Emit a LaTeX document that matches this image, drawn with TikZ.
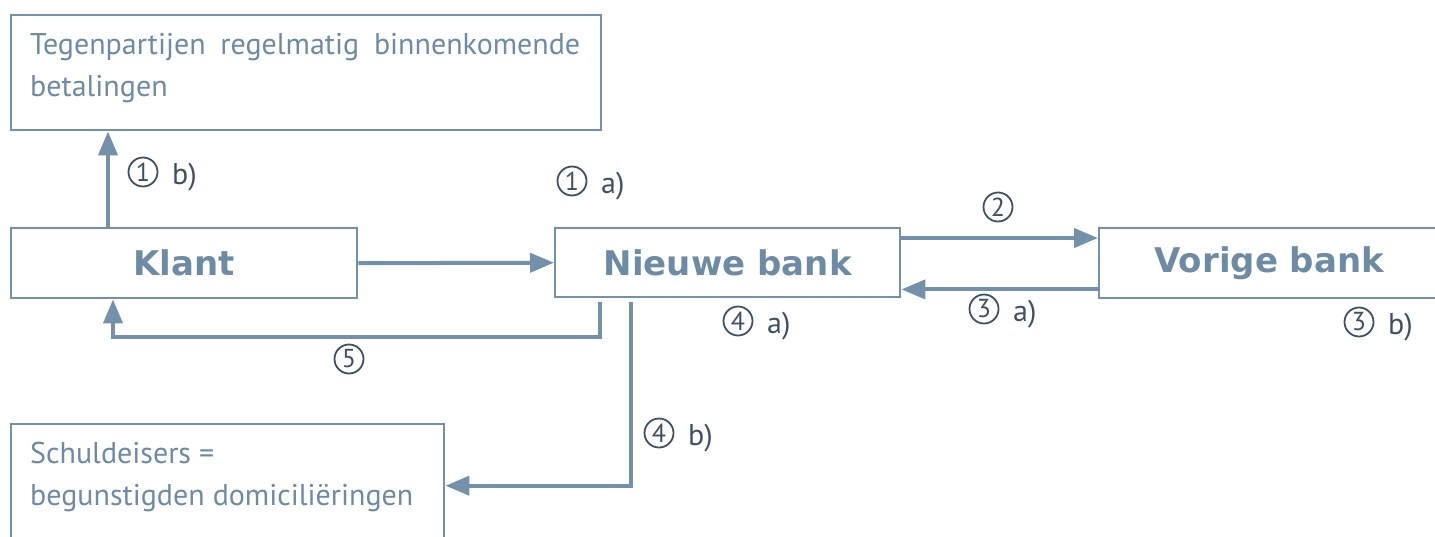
\documentclass[tikz,border=0pt]{standalone}
\usepackage{fontspec}
\setmainfont{PT Sans}
\newfontfamily\boldfam{DejaVu Sans}
\usetikzlibrary{arrows.meta}
\definecolor{boxline}{HTML}{7391AB}
\definecolor{boxtext}{HTML}{6E8BA6}
\definecolor{lbl}{HTML}{3E5164}
\tikzset{
  box/.style={draw=boxline, line width=2.4pt, fill=white, inner sep=0pt, anchor=north west},
  head/.style={text=boxtext, font=\boldfam\bfseries\fontsize{34}{36}\selectfont},
  arr/.style={draw=boxline, line width=4pt, -{Triangle[length=24pt,width=19pt]}},
  lab/.style={text=lbl, inner sep=0pt, anchor=west, font=\fontsize{30}{32}\selectfont},
  circ/.style={circle, draw=lbl, text=lbl, line width=1.8pt, minimum size=29pt, inner sep=0pt,
      font=\fontsize{26}{26}\selectfont},
  bodytext/.style={text=boxtext, anchor=north west, inner sep=0pt, align=left,
      font=\fontsize{30}{42}\selectfont},
}
\begin{document}
\begin{tikzpicture}[x=1pt,y=-1pt]
\clip (0,0) rectangle (1435,536);
\fill[white] (0,0) rectangle (1435,536);
% boxes
\node[box, minimum width=590pt, minimum height=115pt] (top) at (10,14) {};
\node[bodytext] (toptext) at (30,33)
  {\makebox[550pt][s]{Tegenpartijen regelmatig binnenkomende}\\betalingen};
\node[box, minimum width=346pt, minimum height=70pt] (klant) at (10,227) {};
\node[head] (klanttext) at (klant.center) {Klant};
\node[box, minimum width=345pt, minimum height=69pt] (nieuwe) at (554,227) {};
\node[head] (nieuwetext) at (nieuwe.center) {Nieuwe bank};
\node[box, minimum width=340pt, minimum height=70pt] (vorige) at (1098,227) {};
\node[head] (vorigetext) at (vorige.center) {Vorige bank};
\node[box, minimum width=433pt, minimum height=123pt] (bottom) at (10,423) {};
\node[bodytext] (bottomtext) at (30,442)
  {Schuldeisers =\\begunstigden domiciliëringen};
% connectors
\draw[arr] ([xshift=98pt]klant.north west) -- ([xshift=98pt]top.south west);
\draw[arr] (klant.east) -- (nieuwe.west);
\draw[arr] ([yshift=-11pt]nieuwe.north east) -- ([yshift=-11pt]nieuwe.north east -| vorige.west);
\draw[arr] ([yshift=10pt]vorige.south west) -- ([yshift=10pt]vorige.south west -| nieuwe.east);
\coordinate (c5) at ([xshift=46pt,yshift=-4pt]nieuwe.south west);
\draw[arr] (c5) -- ++(0pt,-35pt) -| ([xshift=103pt]klant.south west);
\coordinate (c4) at ([xshift=77pt,yshift=-4pt]nieuwe.south west);
\draw[arr] (c4) |- (bottom.east);
% labels
\node[circ] (n1b) at (143,172) {1};
\node[lab] (l1b) at (172,177) {b)};
\node[circ] (n1a) at (572,181) {1};
\node[lab] (l1a) at (601,186) {a)};
\node[circ] (n2) at (998,207) {2};
\node[circ] (n3a) at (984,309) {3};
\node[lab] (l3a) at (1013,314) {a)};
\node[circ] (n3b) at (1359,322) {3};
\node[lab] (l3b) at (1388,327) {b)};
\node[circ] (n4a) at (738,321) {4};
\node[lab] (l4a) at (767,326) {a)};
\node[circ] (n5) at (349,359) {5};
\node[circ] (n4b) at (659,433) {4};
\node[lab] (l4b) at (688,438) {b)};
\end{tikzpicture}
\end{document}
